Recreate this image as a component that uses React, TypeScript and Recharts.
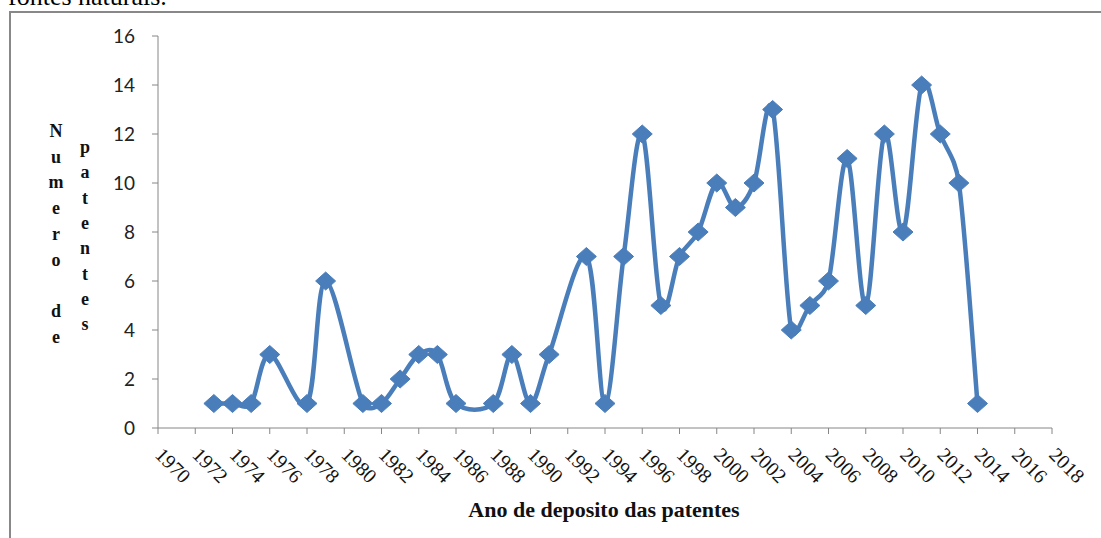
import React from "react";
import { LineChart, Line, XAxis, YAxis } from "recharts";

const YEARS = [
  1973, 1974, 1975, 1976, 1978, 1979, 1981, 1982, 1983, 1984, 1985, 1986, 1988, 1989, 1990, 1991, 1993, 1994, 1995,
  1996, 1997, 1998, 1999, 2000, 2001, 2002, 2003, 2004, 2005, 2006, 2007, 2008, 2009, 2010, 2011, 2012, 2013, 2014,
];
const PATENTS = [
  1, 1, 1, 3, 1, 6, 1, 1, 2, 3, 3, 1, 1, 3, 1, 3, 7, 1, 7, 12, 5, 7, 8, 10, 9, 10, 13, 4, 5, 6, 11, 5, 12, 8, 14, 12, 10, 1,
];
const X_TICKS = [
  1970, 1972, 1974, 1976, 1978, 1980, 1982, 1984, 1986, 1988, 1990, 1992, 1994, 1996, 1998, 2000, 2002, 2004, 2006,
  2008, 2010, 2012, 2014, 2016, 2018,
];
const Y_TICKS = [0, 2, 4, 6, 8, 10, 12, 14, 16];

const CAPTION = "fontes naturais.";
const X_LABEL = "Ano de deposito das patentes";
const Y_LABEL_1 = "Numero de";
const Y_LABEL_2 = "patentes";

const BLUE = "#4A7EBB";
const AXIS = "#868686";
const SERIF = "'Liberation Serif', 'Times New Roman', serif";

const data = YEARS.map((year, i) => ({ year, patents: PATENTS[i] }));

// Excel-like smoothed line: Catmull-Rom control points, clamped to half the segment
const excelCurve = (context: any) => {
  let xs: number[] = [];
  let ys: number[] = [];
  const clamp = (vx: number, vy: number, limit: number) => {
    const len = Math.hypot(vx, vy);
    if (len > limit && len > 0) return [(vx * limit) / len, (vy * limit) / len];
    return [vx, vy];
  };
  return {
    areaStart() {},
    areaEnd() {},
    lineStart() {
      xs = [];
      ys = [];
    },
    point(x: number, y: number) {
      xs.push(+x);
      ys.push(+y);
    },
    lineEnd() {
      const n = xs.length;
      if (!n) return;
      context.moveTo(xs[0], ys[0]);
      for (let i = 0; i < n - 1; i++) {
        const xp = xs[Math.max(i - 1, 0)];
        const yp = ys[Math.max(i - 1, 0)];
        const xn = xs[Math.min(i + 2, n - 1)];
        const yn = ys[Math.min(i + 2, n - 1)];
        const half = Math.hypot(xs[i + 1] - xs[i], ys[i + 1] - ys[i]) / 2;
        const [ax, ay] = clamp((xs[i + 1] - xp) / 6, (ys[i + 1] - yp) / 6, half);
        const [bx, by] = clamp((xn - xs[i]) / 6, (yn - ys[i]) / 6, half);
        context.bezierCurveTo(xs[i] + ax, ys[i] + ay, xs[i + 1] - bx, ys[i + 1] - by, xs[i + 1], ys[i + 1]);
      }
    },
  };
};

function Diamond(props: any) {
  const { cx, cy, index } = props;
  if (cx == null || cy == null) return <g key={`d-${index}`} />;
  return (
    <path
      key={`d-${index}`}
      d={`M${cx},${cy - 9} L${cx + 10},${cy} L${cx},${cy + 9} L${cx - 10},${cy} Z`}
      fill={BLUE}
      stroke={BLUE}
      strokeWidth={1}
      strokeLinejoin="round"
    />
  );
}

function XTick(props: any) {
  const { x, y, payload } = props;
  const tx = x - 4;
  const ty = y + 20;
  return (
    <text
      x={tx}
      y={ty}
      transform={`rotate(45 ${tx} ${ty})`}
      textAnchor="start"
      fontFamily={SERIF}
      fontSize={20}
      fill="#111"
    >
      {payload.value}
    </text>
  );
}

export default function App() {
  return (
    <div
      style={{
        position: "absolute",
        left: 0,
        top: 0,
        width: 1101,
        height: 538,
        overflow: "hidden",
        background: "#fff",
      }}
    >
      <svg width={1101} height={538} style={{ position: "absolute", left: 0, top: 0 }}>
        <text x={8} y={5} fontFamily={SERIF} fontSize={26} fill="#000">
          {CAPTION}
        </text>
        <line x1={10} y1={12} x2={1101} y2={12} stroke="#888" strokeWidth={2} />
        <line x1={10} y1={11} x2={10} y2={538} stroke="#888" strokeWidth={2} />
        {Y_LABEL_1.split("").map((ch, i) => (
          <text
            key={`a${i}`}
            x={56}
            y={137 + i * 25.7}
            textAnchor="middle"
            fontFamily={SERIF}
            fontWeight="bold"
            fontSize={18}
            fill="#111"
          >
            {ch === " " ? "" : ch}
          </text>
        ))}
        {Y_LABEL_2.split("").map((ch, i) => (
          <text
            key={`b${i}`}
            x={85}
            y={153 + i * 25.3}
            textAnchor="middle"
            fontFamily={SERIF}
            fontWeight="bold"
            fontSize={18}
            fill="#111"
          >
            {ch}
          </text>
        ))}
        <text x={604} y={517} textAnchor="middle" fontFamily={SERIF} fontWeight="bold" fontSize={22} fill="#111">
          {X_LABEL}
        </text>
      </svg>
      <div style={{ position: "absolute", left: 0, top: 0 }}>
        <LineChart width={1101} height={538} data={data} margin={{ top: 36, right: 49, bottom: 30, left: 98 }}>
          <XAxis
            dataKey="year"
            type="number"
            domain={[1970, 2018]}
            ticks={X_TICKS}
            interval={0}
            height={80}
            stroke={AXIS}
            tickSize={6}
            tick={<XTick />}
          />
          <YAxis
            type="number"
            domain={[0, 16]}
            ticks={Y_TICKS}
            interval={0}
            width={60}
            stroke={AXIS}
            tickSize={6}
            tickMargin={17}
            tick={{ fill: "#222", fontSize: 19, fontFamily: "Lato, 'Open Sans', sans-serif" }}
          />
          <Line
            type={excelCurve as any}
            dataKey="patents"
            stroke={BLUE}
            strokeWidth={4.5}
            dot={(p: any) => <Diamond key={`dot-${p.index}`} {...p} />}
            activeDot={false}
            isAnimationActive={false}
          />
        </LineChart>
      </div>
    </div>
  );
}
